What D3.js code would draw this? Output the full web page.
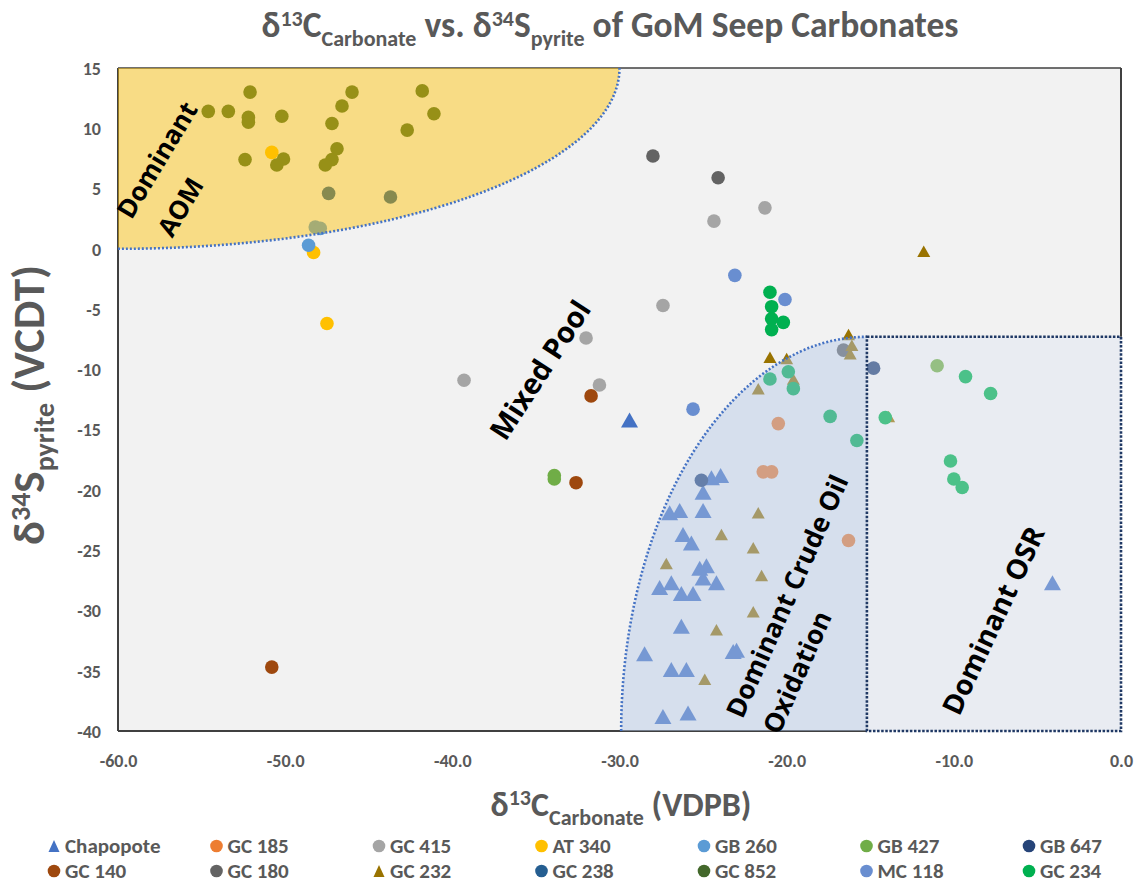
<!DOCTYPE html>
<html>
<head>
<meta charset="utf-8">
<script src="https://cdn.jsdelivr.net/npm/d3@7"></script>
<style>
  body { margin: 0; background: #ffffff; }
  svg { display: block; }
</style>
</head>
<body>
<svg id="chart" width="1140" height="886"></svg>
<script>
// ---- data -------------------------------------------------------------
const xTicks = [-60, -50, -40, -30, -20, -10, 0];
const yTicks = [15, 10, 5, 0, -5, -10, -15, -20, -25, -30, -35, -40];

const seriesNames  = ["Chapopote", "GC 185", "GC 415", "AT 340", "GB 260", "GB 427", "GB 647",
                      "GC 140", "GC 180", "GC 232", "GC 238", "GC 852", "MC 118", "GC 234"];
const seriesColors = ["#4472C4", "#ED7D31", "#A5A5A5", "#FFC000", "#5B9BD5", "#70AD47", "#264478",
                      "#9E480E", "#636363", "#997300", "#255E91", "#43682B", "#698ED0", "#00B050"];
const seriesShapes = ["bigTri", "circle", "circle", "circle", "circle", "circle", "circle",
                      "circle", "circle", "smallTri", "circle", "circle", "circle", "circle"];

// [δ13C carbonate, δ34S pyrite]
const chapopote = [[-29.4,-14.2],[-24.5,-19.0],[-23.95,-18.8],[-25.0,-20.2],[-25.0,-21.7],[-27.0,-21.9],
  [-26.4,-21.7],[-26.2,-23.7],[-25.7,-24.4],[-25.2,-26.5],[-24.8,-26.3],[-27.6,-28.1],[-26.9,-27.7],
  [-26.3,-28.6],[-25.6,-28.6],[-25.0,-27.3],[-24.2,-27.7],[-26.3,-31.3],[-28.5,-33.6],[-23.2,-33.4],
  [-23.0,-33.3],[-26.9,-34.9],[-26.0,-34.9],[-27.4,-38.8],[-25.9,-38.5],[-4.1,-27.7]];
const gc185 = [[-20.5,-14.5],[-21.4,-18.5],[-20.9,-18.5],[-16.3,-24.2]];
const gc415 = [[-24.35,2.3],[-21.3,3.4],[-27.4,-4.7],[-32.0,-7.4],[-31.2,-11.3],[-39.3,-10.9]];
const at340 = [[-50.8,8.0],[-48.3,-0.3],[-47.5,-6.2]];
const gb260 = [[-48.2,1.8],[-47.9,1.7],[-48.6,0.3]];
const gb427 = [[-33.9,-18.8],[-33.9,-19.1],[-11.0,-9.7]];
const gb647 = [[-14.8,-9.9],[-25.1,-19.2]];
const gc140 = [[-31.7,-12.2],[-32.6,-19.4],[-50.8,-34.7]];
const gc180 = [[-28.0,7.7],[-24.1,5.9],[-16.6,-8.4]];
const gc232 = [[-11.8,-0.2],[-16.3,-7.1],[-16.1,-8.0],[-16.2,-8.7],[-21.0,-9.0],[-20.0,-9.1],
  [-19.6,-10.8],[-21.7,-11.6],[-13.9,-13.9],[-21.7,-21.9],[-23.9,-23.7],[-22.0,-24.8],[-27.2,-26.1],
  [-21.5,-27.1],[-22.0,-30.1],[-24.2,-31.6],[-24.9,-35.7]];
const gc238 = [[-47.4,4.6],[-43.7,4.3]];
const gc852 = [[-54.6,11.4],[-53.4,11.4],[-52.1,13.0],[-52.2,10.9],[-52.2,10.5],[-50.2,11.0],
  [-52.4,7.4],[-50.1,7.45],[-50.5,6.95],[-47.2,10.4],[-46.6,11.85],[-46.0,13.0],[-46.9,8.3],
  [-47.2,7.4],[-47.6,6.95],[-42.7,9.85],[-41.8,13.1],[-41.1,11.2]];
const mc118 = [[-23.1,-2.2],[-20.1,-4.2],[-25.6,-13.3]];
const gc234 = [[-21.0,-3.6],[-20.9,-4.8],[-20.9,-5.8],[-20.2,-6.1],[-20.9,-6.7],[-19.9,-10.2],
  [-21.0,-10.8],[-19.6,-11.6],[-17.4,-13.9],[-14.1,-14.0],[-15.8,-15.9],[-9.3,-10.6],[-7.8,-12.0],
  [-10.2,-17.6],[-10.0,-19.1],[-9.5,-19.8]];

const seriesPoints = [chapopote, gc185, gc415, at340, gb260, gb427, gb647,
                      gc140, gc180, gc232, gc238, gc852, mc118, gc234];

// interpretive zones (data units)
const aomZone   = { cx: -60, cy: 15, rx: 30, ry: 15 };          // quarter ellipse from top-left corner
const crudeZone = { cx: -15.2, cy: -40, rx: 14.7, ry: 32.7 };   // quarter ellipse from bottom edge
const osrZone   = { x0: -15.2, x1: 0, y0: -7.3, y1: -40 };

// ---- layout -----------------------------------------------------------
const svg = d3.select("#chart");
const plot = { left: 118, right: 1121, top: 68, bottom: 731 };
const x = d3.scaleLinear().domain([-60, 0]).range([plot.left, plot.right]);
const y = d3.scaleLinear().domain([-40, 15]).range([plot.bottom, plot.top]);

const gray = "#595959";
const uiFont = "Carlito, 'Liberation Sans Narrow', 'Roboto Condensed', 'Liberation Sans', sans-serif";
const labelFont = "'Open Sans', 'Noto Sans', sans-serif";

// plot background
svg.append("rect")
  .attr("x", plot.left).attr("y", plot.top)
  .attr("width", plot.right - plot.left).attr("height", plot.bottom - plot.top)
  .attr("fill", "#F2F2F2");

// frame (right and bottom stop where the OSR box takes over)
const frame = svg.append("g").attr("stroke", "#404040").attr("stroke-width", 2).attr("fill", "none");
frame.append("line").attr("x1", x(-60)).attr("x2", x(0)).attr("y1", y(15)).attr("y2", y(15)).attr("stroke-width", 1.5);
frame.append("line").attr("x1", x(-60)).attr("x2", x(-60)).attr("y1", y(15)).attr("y2", y(-40));
frame.append("line").attr("x1", x(0)).attr("x2", x(0)).attr("y1", y(15)).attr("y2", y(osrZone.y0));
frame.append("line").attr("x1", x(-60)).attr("x2", x(osrZone.x0)).attr("y1", y(-40)).attr("y2", y(-40));

// ---- markers ----------------------------------------------------------
function triPath(w, h) {
  return `M0,${-h/2}L${w/2},${h/2}L${-w/2},${h/2}Z`;
}
function drawMarker(g, shape, color, px, py) {
  if (shape === "circle") {
    g.append("circle").attr("cx", px).attr("cy", py).attr("r", 6.8).attr("fill", color);
  } else {
    const w = shape === "bigTri" ? 17 : 13;
    const h = shape === "bigTri" ? 15 : 11.5;
    g.append("path").attr("d", triPath(w, h))
      .attr("transform", `translate(${px},${py})`).attr("fill", color);
  }
}

const pts = svg.append("g");
seriesPoints.forEach((arr, i) => {
  const g = pts.append("g");
  arr.forEach(d => drawMarker(g, seriesShapes[i], seriesColors[i], x(d[0]), y(d[1])));
});

// ---- zones (translucent, drawn over the points) -------------------------
const kx = (x(1) - x(0)), ky = (y(0) - y(1));

// AOM
const aRx = aomZone.rx * kx, aRy = aomZone.ry * ky;
const aomPath = `M${x(aomZone.cx)},${y(aomZone.cy - aomZone.ry)} A${aRx},${aRy} 0 0 0 ${x(aomZone.cx + aomZone.rx)},${y(aomZone.cy)}`;
svg.append("path").attr("d", aomPath + ` L${x(aomZone.cx)},${y(aomZone.cy)} Z`)
  .attr("fill", "#FFC000").attr("fill-opacity", 0.45);

// Crude oil oxidation
const cRx = crudeZone.rx * kx, cRy = crudeZone.ry * ky;
const crudeArc = `M${x(crudeZone.cx - crudeZone.rx)},${y(crudeZone.cy)} A${cRx},${cRy} 0 0 1 ${x(crudeZone.cx)},${y(crudeZone.cy + crudeZone.ry)}`;
svg.append("path").attr("d", crudeArc + ` L${x(crudeZone.cx)},${y(crudeZone.cy)} Z`)
  .attr("fill", "#B4C7E7").attr("fill-opacity", 0.45);

// OSR
svg.append("rect")
  .attr("x", x(osrZone.x0)).attr("y", y(osrZone.y0))
  .attr("width", x(osrZone.x1) - x(osrZone.x0)).attr("height", y(osrZone.y1) - y(osrZone.y0))
  .attr("fill", "#DAE3F3").attr("fill-opacity", 0.35);

// zone outlines
svg.append("path").attr("d", aomPath).attr("fill", "none")
  .attr("stroke", "#4472C4").attr("stroke-width", 2.6).attr("stroke-dasharray", "2 2");
svg.append("path").attr("d", crudeArc).attr("fill", "none")
  .attr("stroke", "#4472C4").attr("stroke-width", 2.6).attr("stroke-dasharray", "2 2");
svg.append("rect")
  .attr("x", x(osrZone.x0)).attr("y", y(osrZone.y0))
  .attr("width", x(osrZone.x1) - x(osrZone.x0)).attr("height", y(osrZone.y1) - y(osrZone.y0))
  .attr("fill", "none").attr("stroke", "#1F3864").attr("stroke-width", 2.6).attr("stroke-dasharray", "2.5 1.6");

// ---- zone labels -------------------------------------------------------
const zoneLabels = [
  { text: "Dominant", at: [-57.7, 7.4], angle: -59, size: 26 },
  { text: "AOM", at: [-56.3, 3.5], angle: -59, size: 26 },
  { text: "Mixed Pool", at: [-34.8, -10.0], angle: -57, size: 29 },
  { text: "Dominant Crude Oil", at: [-20.0, -28.8], angle: -66, size: 26.5 },
  { text: "Oxidation", at: [-19.4, -35.1], angle: -66, size: 26.5 },
  { text: "Dominant OSR", at: [-7.7, -30.8], angle: -65, size: 28 }
];
svg.append("g").selectAll("text").data(zoneLabels).join("text")
  .attr("transform", d => `translate(${x(d.at[0])},${y(d.at[1])}) rotate(${d.angle})`)
  .attr("text-anchor", "middle").attr("dominant-baseline", "central")
  .attr("font-family", labelFont).attr("font-weight", 700).attr("font-size", d => d.size)
  .attr("fill", "#000").text(d => d.text);

// ---- axes --------------------------------------------------------------
const xAxis = d3.axisBottom(x).tickValues(xTicks).tickSize(0).tickPadding(0).tickFormat(d => d.toFixed(1));
const yAxis = d3.axisLeft(y).tickValues(yTicks).tickSize(0).tickPadding(0).tickFormat(d => String(d));

const gx = svg.append("g").attr("transform", `translate(0,${plot.bottom + 22})`).call(xAxis);
const gy = svg.append("g").attr("transform", `translate(${plot.left - 17},0)`).call(yAxis);
[gx, gy].forEach(g => {
  g.select(".domain").remove();
  g.selectAll("text").attr("font-family", uiFont).attr("font-size", 18)
    .attr("font-weight", "bold").attr("fill", gray);
});
gx.selectAll("text").attr("dy", "0.35em").attr("y", 8);
gy.selectAll("text").attr("dy", "0.35em");

// rich text helper: parts = [[string, "sup"|"sub"|null], ...]
function rich(textSel, parts, base, small, supShift, subShift) {
  let off = 0;
  parts.forEach(([str, kind]) => {
    const target = kind === "sup" ? -supShift : kind === "sub" ? subShift : 0;
    textSel.append("tspan")
      .attr("dy", target - off)
      .attr("font-size", kind ? small : base)
      .text(str);
    off = target;
  });
}

// title
const title = svg.append("text")
  .attr("x", 610).attr("y", 37).attr("text-anchor", "middle")
  .attr("font-family", uiFont).attr("font-weight", "bold").attr("fill", gray);
rich(title, [["δ", null], ["13", "sup"], ["C", null], ["Carbonate", "sub"], ["  vs. δ", null],
             ["34", "sup"], ["S", null], ["pyrite", "sub"], [" of GoM Seep Carbonates", null]],
     35.5, 22, 11, 9);

// x-axis title
const xTitle = svg.append("text")
  .attr("x", 621).attr("y", 816).attr("text-anchor", "middle")
  .attr("font-family", uiFont).attr("font-weight", "bold").attr("fill", gray);
rich(xTitle, [["δ", null], ["13", "sup"], ["C", null], ["Carbonate", "sub"], [" (VDPB)", null]],
     34, 22, 11, 9);

// y-axis title
const yTitle = svg.append("text")
  .attr("transform", "translate(44,405) rotate(-90)").attr("text-anchor", "middle")
  .attr("font-family", uiFont).attr("font-weight", "bold").attr("fill", gray);
rich(yTitle, [["δ", null], ["34", "sup"], ["S", null], ["pyrite", "sub"], [" (VCDT)", null]],
     45, 28, 14, 10);

// ---- legend ------------------------------------------------------------
const legend = svg.append("g");
const legX = d3.scalePoint().domain(d3.range(7)).range([54, 1029]);
seriesNames.forEach((name, i) => {
  const col = i % 7, row = Math.floor(i / 7);
  const mx = legX(col), my = row === 0 ? 846 : 871;
  const g = legend.append("g");
  if (seriesShapes[i] === "circle") {
    g.append("circle").attr("cx", mx).attr("cy", my).attr("r", 6.3).attr("fill", seriesColors[i]);
  } else {
    g.append("path").attr("d", triPath(11, 12)).attr("transform", `translate(${mx},${my})`)
      .attr("fill", seriesColors[i]);
  }
  g.append("text").attr("x", mx + 11).attr("y", my).attr("dy", "0.35em")
    .attr("font-family", uiFont).attr("font-weight", "bold").attr("font-size", 21)
    .attr("fill", gray).text(name);
});
</script>
</body>
</html>
